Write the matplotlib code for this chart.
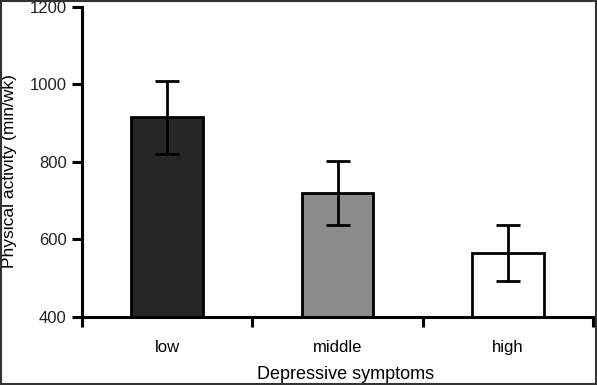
import matplotlib
matplotlib.use("Agg")
import matplotlib.pyplot as plt
from matplotlib.patches import Rectangle

# data
groups = ["low", "middle", "high"]
means = [915, 720, 564]
errors = [94, 82, 72]
colors = ["#262626", "#8c8c8c", "#ffffff"]

plt.rcParams['font.family'] = ['Liberation Sans', 'DejaVu Sans']

fig = plt.figure(figsize=(5.97, 3.85), dpi=100)
ax = fig.add_axes([0.1374, 0.1774, 0.9933 - 0.1374, 0.9818 - 0.1774])

x = list(range(len(groups)))
ax.bar(x, [m - 400 for m in means], bottom=400, width=0.42, color=colors,
       edgecolor="black", linewidth=2, zorder=2)
ax.errorbar(x, means, yerr=errors, fmt="none", ecolor="black", elinewidth=2,
            capsize=8.5, capthick=2, zorder=3)

ax.set_xlim(-0.5, 2.5)
ax.set_ylim(400, 1200)
ax.set_yticks([400, 600, 800, 1000, 1200])

# category labels without tick marks, boundary ticks as minor
ax.set_xticks(x)
ax.set_xticklabels(groups)
ax.tick_params(axis="x", which="major", length=0, pad=17, labelsize=12)
ax.set_xticks([-0.5, 0.5, 1.5, 2.5], minor=True)
ax.tick_params(axis="x", which="minor", length=7, width=2.2, direction="out")
ax.tick_params(axis="y", length=7, width=2.2, direction="out", labelsize=12,
               pad=4, labelcolor="#222222")

for side in ["top", "right"]:
    ax.spines[side].set_visible(False)
for side in ["left", "bottom"]:
    ax.spines[side].set_linewidth(2.2)

ax.set_ylabel("Physical activity (min/wk)", fontsize=12.5)
ax.set_xlabel("Depressive symptoms", fontsize=13)
ax.yaxis.set_label_coords(-0.127, 0.47)
ax.xaxis.set_label_coords(0.515, -0.158)

# frame around the image
fig.patches.append(Rectangle((0.001, 0.002), 0.997, 0.996, transform=fig.transFigure,
                             fill=False, edgecolor="#333333", linewidth=1.5))

fig.savefig("out.png", dpi=100)
